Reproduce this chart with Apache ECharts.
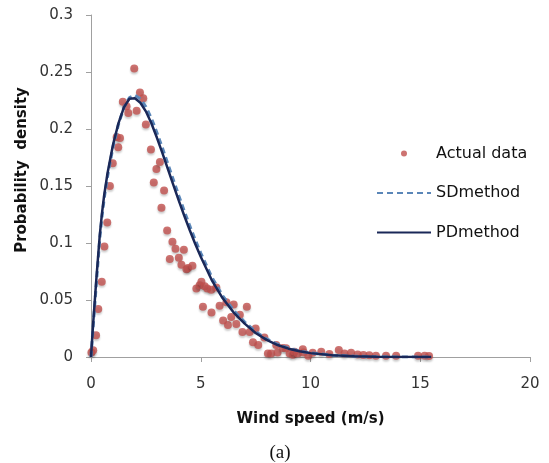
<!DOCTYPE html>
<html>
<head>
<meta charset="utf-8">
<script src="https://cdn.jsdelivr.net/npm/echarts@6/dist/echarts.min.js"></script>
<style>
  html, body { margin: 0; padding: 0; background: #fff; }
  #chart { width: 549px; height: 463px; }
</style>
</head>
<body>
<div id="chart"></div>
<script>
// measured wind data (scatter)
const actualSpeed = [
  0.02, 0.1, 0.23, 0.33, 0.49, 0.61, 0.74, 0.86, 0.99, 1.17, 1.24, 1.32, 1.45, 1.62, 1.7,
  1.97, 2.08, 2.23, 2.38, 2.5, 2.73, 2.86, 2.98, 3.14, 3.21, 3.33, 3.47, 3.59, 3.71, 3.85,
  4.0, 4.12, 4.23, 4.35, 4.42, 4.62, 4.8, 4.95, 5.03, 5.1, 5.18, 5.3, 5.48, 5.49, 5.71,
  5.86, 6.02, 6.17, 6.24, 6.39, 6.5, 6.62, 6.78, 6.9, 7.1, 7.23, 7.38, 7.5, 7.62, 7.9,
  8.06, 8.21, 8.44, 8.5, 8.74, 8.89, 9.05, 9.2, 9.27, 9.42, 9.65, 9.68, 9.9, 10.1, 10.49,
  10.86, 11.29, 11.55, 11.85, 12.15, 12.41, 12.68, 12.98, 13.44, 13.9, 14.9, 15.2, 15.4
]
const actualDensity = [
  0.004, 0.006, 0.019, 0.042, 0.066, 0.097, 0.118, 0.15, 0.17, 0.193, 0.184, 0.192, 0.224, 0.22, 0.214,
  0.253, 0.216, 0.232, 0.227, 0.204, 0.182, 0.153, 0.165, 0.171, 0.131, 0.146, 0.111, 0.086, 0.101, 0.095,
  0.087, 0.081, 0.094, 0.077, 0.078, 0.08, 0.06, 0.063, 0.066, 0.044, 0.062, 0.06, 0.059, 0.039, 0.061,
  0.045, 0.032, 0.048, 0.028, 0.035, 0.046, 0.029, 0.037, 0.022, 0.044, 0.022, 0.013, 0.025, 0.0105, 0.017,
  0.003, 0.003, 0.0105, 0.004, 0.008, 0.0076, 0.003, 0.002, 0.0046, 0.003, 0.0067, 0.004, 0.001, 0.0038, 0.0046,
  0.0026, 0.0061, 0.003, 0.0038, 0.0023, 0.0018, 0.0015, 0.001, 0.001, 0.001, 0.001, 0.001, 0.0008
]

// fitted curves
const curveSpeed = [0, 0.1, 0.25, 0.4, 0.5, 0.6, 0.75, 1, 1.25, 1.5, 1.75, 2, 2.25, 2.5, 2.75, 3, 3.25,
  3.5, 3.75, 4, 4.25, 4.5, 4.75, 5, 5.5, 6, 6.5, 7, 7.5, 8, 8.5, 9, 9.5, 10, 11, 12, 13, 14, 15, 15.5]
const sdDensity = [0, 0.027, 0.066, 0.104, 0.123, 0.139, 0.158, 0.184, 0.204, 0.219, 0.2275, 0.2295,
  0.2265, 0.2195, 0.2095, 0.197, 0.1835, 0.1695, 0.1555, 0.1415, 0.128, 0.115, 0.1027, 0.0912, 0.0702,
  0.0537, 0.0408, 0.0307, 0.0222, 0.0159, 0.0112, 0.0078, 0.0053, 0.0036, 0.0016, 0.0007, 0.0003,
  0.0001, 0.00004, 0]
const pdDensity = [0, 0.03, 0.07, 0.107, 0.126, 0.142, 0.161, 0.186, 0.205, 0.219, 0.2265, 0.227,
  0.223, 0.2155, 0.205, 0.1925, 0.179, 0.165, 0.151, 0.1372, 0.1239, 0.1112, 0.0992, 0.088, 0.0675,
  0.0515, 0.039, 0.0293, 0.021, 0.015, 0.0105, 0.0073, 0.005, 0.0034, 0.0015, 0.0006, 0.0003,
  0.0001, 0.00004, 0]

const font = 'DejaVu Sans'
const chart = echarts.init(document.getElementById('chart'))

const pairs = (xs, ys) => xs.map((x, i) => [x, ys[i]])

chart.setOption({
  backgroundColor: '#fff',
  animation: false,
  textStyle: { fontFamily: font },
  grid: { left: 91, right: 19, top: 15, bottom: 106 },
  legend: {
    orient: 'vertical',
    left: 371,
    top: 139,
    itemWidth: 54,
    itemHeight: 6,
    itemGap: 20.5,
    textStyle: { fontFamily: font, fontSize: 16, color: '#111', lineHeight: 19 },
    data: [
      'Actual data',
      // hide the marker that ECharts puts in the middle of line legend icons
      { name: 'SDmethod', itemStyle: { opacity: 0 } },
      { name: 'PDmethod', itemStyle: { opacity: 0 } }
    ]
  },
  xAxis: {
    type: 'value',
    min: 0,
    max: 20,
    interval: 5,
    name: 'Wind speed (m/s)',
    nameLocation: 'middle',
    nameGap: 55,
    nameTextStyle: { fontFamily: font, fontSize: 15, fontWeight: 'bold', color: '#111' },
    axisLine: { lineStyle: { color: '#a0a0a0', width: 1 } },
    axisTick: { length: 5, lineStyle: { color: '#a0a0a0' } },
    axisLabel: { margin: 20, fontSize: 15, color: '#333' },
    splitLine: { show: false }
  },
  yAxis: {
    type: 'value',
    min: 0,
    max: 0.3,
    interval: 0.05,
    axisLine: { show: true, lineStyle: { color: '#a0a0a0', width: 1 } },
    axisTick: { show: true, length: 5, lineStyle: { color: '#a0a0a0' } },
    axisLabel: { margin: 18, fontSize: 15, color: '#333' },
    splitLine: { show: false }
  },
  series: [
    {
      name: 'Actual data',
      type: 'scatter',
      symbolSize: 8,
      itemStyle: {
        color: '#c0504d',
        shadowColor: 'rgba(0,0,0,0.25)',
        shadowBlur: 2,
        shadowOffsetY: 2
      },
      data: pairs(actualSpeed, actualDensity)
    },
    {
      name: 'SDmethod',
      type: 'line',
      symbol: 'none',
      lineStyle: { color: '#5a86b8', width: 3, type: [6, 4] },
      itemStyle: { color: '#5a86b8' },
      data: pairs(curveSpeed, sdDensity)
    },
    {
      name: 'PDmethod',
      type: 'line',
      symbol: 'none',
      lineStyle: { color: '#1a2858', width: 2.5 },
      itemStyle: { color: '#1a2858' },
      data: pairs(curveSpeed, pdDensity)
    }
  ],
  graphic: [
    {
      // y axis title sits a bit above the axis middle in the original
      type: 'text',
      x: 22,
      y: 170,
      rotation: Math.PI / 2,
      style: {
        text: 'Probability  density',
        fontFamily: font,
        fontSize: 15,
        fontWeight: 'bold',
        fill: '#111',
        align: 'center',
        verticalAlign: 'middle'
      }
    },
    {
      type: 'text',
      x: 280,
      y: 453,
      style: {
        text: '(a)',
        fontFamily: 'Liberation Serif',
        fontSize: 19,
        fill: '#111',
        align: 'center',
        verticalAlign: 'middle'
      }
    }
  ]
})
</script>
</body>
</html>
